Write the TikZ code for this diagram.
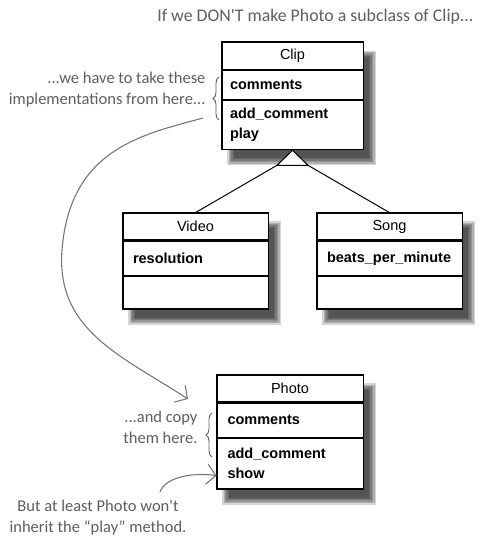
\documentclass[tikz,border=0pt]{standalone}
\usepackage{fontspec}
\setmainfont{Liberation Sans}
\newfontfamily\notefont{Carlito}
\usetikzlibrary{positioning,fit,backgrounds,arrows.meta,decorations.pathreplacing}

\definecolor{notegray}{HTML}{5E5E5E}

\tikzset{
  classhead/.style={
    draw,
    line width=0.8pt,
    minimum width=#1,
    minimum height=27pt,
    inner sep=0pt,
    font=\fontsize{14.5}{17}\selectfont
  },
  classpart/.style={
    draw,
    line width=0.8pt,
    minimum width=#1,
    text width=125pt,
    inner xsep=7pt,
    inner ysep=0pt,
    align=left,
    font=\bfseries\fontsize{14.5}{20}\selectfont
  },
  classframe/.style={
    draw,
    line width=1.6pt,
    fill=white,
    inner sep=0pt
  },
  classshadow/.style={fill=black, opacity=0.17},
  note/.style={text=notegray, font=\notefont\fontsize{16.5}{21}\selectfont},
  notearrow/.style={draw=notegray!85, line width=1.1pt, -{Straight Barb[length=9pt,width=20pt]}},
  notebrace/.style={draw=notegray, line width=0.9pt, decorate, decoration={brace, amplitude=6pt}}
}

\begin{document}
\begin{tikzpicture}[x=1pt, y=-1pt]
  \useasboundingbox (0,0) rectangle (486,542);

  % the classes
  \node[classhead=141pt] (cliphead) at (292.5,56) {Clip};
  \node[classpart=141pt, below=0pt of cliphead, minimum height=29pt] (clipattr) {comments};
  \node[classpart=141pt, below=0pt of clipattr, minimum height=49pt] (clipmeth) {add\_comment\\play};

  \node[classhead=145pt] (videohead) at (195.5,226.5) {Video};
  \node[classpart=145pt, below=0pt of videohead, minimum height=35pt] (videoattr) {resolution};
  \node[classpart=145pt, below=0pt of videoattr, minimum height=32pt] (videometh) {};

  \node[classhead=145pt] (songhead) at (389.5,226.5) {Song};
  \node[classpart=145pt, below=0pt of songhead, minimum height=35pt] (songattr) {beats\_per\_minute};
  \node[classpart=145pt, below=0pt of songattr, minimum height=32pt] (songmeth) {};

  \node[classhead=146pt] (photohead) at (290,388.5) {Photo};
  \node[classpart=146pt, below=0pt of photohead, minimum height=35pt] (photoattr) {comments};
  \node[classpart=146pt, below=0pt of photoattr, minimum height=50pt] (photometh) {add\_comment\\show};

  \begin{scope}[on background layer]
    % soft shadows
    \foreach \c in {clip,video,song,photo}
      \foreach \g in {-3.5,-2.1,-0.7,0.7,2.1,3.5}
        \fill[classshadow] ([xshift={9pt-(\g pt)}, yshift={-12pt+(\g pt)}]\c head.north west)
          rectangle ([xshift={9pt+(\g pt)}, yshift={-12pt-(\g pt)}]\c meth.south east);
    \node[classframe, fit=(cliphead)(clipmeth)] (clip) {};
    \node[classframe, fit=(videohead)(videometh)] (video) {};
    \node[classframe, fit=(songhead)(songmeth)] (song) {};
    \node[classframe, fit=(photohead)(photometh)] (photo) {};
  \end{scope}
  \foreach \c in {clip,video,song,photo}
    \draw[line width=2.6pt] (\c head.south west) -- (\c head.south east);

  % generalization
  \draw[line width=1pt, fill=white] (clip.south) -- ++(-15.5,15) coordinate (genl)
    -- ++(31,0) coordinate (genr) -- cycle;
  \draw[line width=1pt] (genl) -- (videohead.north);
  \draw[line width=1pt] (genr) -- (songhead.north);

  % notes
  \node[note, anchor=east, font=\notefont\fontsize{17.8}{21}\selectfont] (titlenote) at (477,17) {If we DON'T make Photo a subclass of Clip...};
  \node[note, anchor=east, align=right] (takenote) at (209,90) {...we have to take these\\implementations from here...};
  \node[note, anchor=east, align=right] (copynote) at (201,427) {...and copy\\them here.};
  \node[note, align=center] (playnote) at (98,518) {But at least Photo won't\\inherit the “play” method.};

  \draw[notebrace] (219,120) -- (219,77);
  \draw[notebrace] (212,457) -- (212,413);

  \coordinate (takefrom) at (203,118);
  \coordinate (copyto) at (188,399);
  \coordinate (notinherit) at (160,492);
  \draw[notearrow] (takefrom) .. controls (140,135) and (70,150) .. (62,250)
    .. controls (56,330) and (120,355) .. (copyto);
  \draw[notearrow] (notinherit) .. controls (165,478) and (190,472) .. ([yshift=-12pt]photometh.west);
\end{tikzpicture}
\end{document}
